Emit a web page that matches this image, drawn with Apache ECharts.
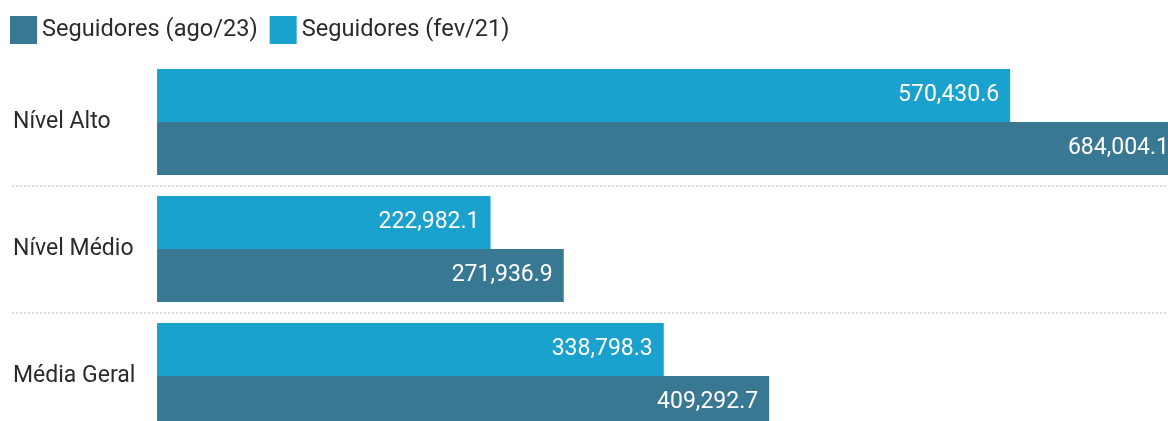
<!DOCTYPE html>
<html lang="pt">
<head>
    <meta charset="utf-8"/>
    <title>Seguidores</title>
    <script src="https://cdn.jsdelivr.net/npm/echarts@6/dist/echarts.min.js"></script>
    <style>
        html, body { margin: 0; padding: 0; background: #fff; }
        #chart { width: 1168px; height: 421px; }
    </style>
</head>
<body>
    <div id="chart"></div>
    <script>
        const categories = ['Nível Alto', 'Nível Médio', 'Média Geral'];
        const seguidoresAgo23 = [684004.1, 271936.9, 409292.7];
        const seguidoresFev21 = [570430.6, 222982.1, 338798.3];

        const chart = echarts.init(document.getElementById('chart'));
        const fmt = function (p) {
            return p.value.toLocaleString('en-US', { minimumFractionDigits: 1, maximumFractionDigits: 1 });
        };
        const barLabel = {
            show: true,
            position: 'insideRight',
            distance: 11,
            color: '#fff',
            fontSize: 23,
            fontFamily: 'Roboto',
            formatter: fmt
        };
        const option = {
            animation: false,
            textStyle: { fontFamily: 'Roboto' },
            legend: {
                left: 5,
                top: 11,
                itemWidth: 27,
                itemHeight: 28,
                itemGap: 12,
                icon: 'rect',
                data: ['Seguidores (ago/23)', 'Seguidores (fev/21)'],
                textStyle: { fontSize: 23.6, color: '#2b2b2b', fontFamily: 'Roboto' }
            },
            grid: {
                left: 12, right: -12, top: 58.5, bottom: -18.5,
                containLabel: false,
                outerBoundsMode: 'none'
            },
            xAxis: {
                type: 'value',
                min: -97000,
                max: 684004.1,
                show: false
            },
            yAxis: {
                type: 'category',
                data: categories,
                inverse: true,
                axisLine: { show: false },
                axisTick: { show: false },
                axisLabel: {
                    inside: true,
                    margin: 1,
                    fontSize: 23,
                    color: '#2b2b2b',
                    fontFamily: 'Roboto'
                },
                splitLine: {
                    show: true,
                    interval: function (idx) { return idx !== 0; },
                    lineStyle: { color: '#dcdcdc', width: 2, type: [2, 2] }
                }
            },
            series: [
                {
                    name: 'Seguidores (fev/21)',
                    type: 'bar',
                    data: seguidoresFev21,
                    barWidth: 53,
                    barGap: '0%',
                    itemStyle: { color: '#1aa1cd' },
                    label: barLabel
                },
                {
                    name: 'Seguidores (ago/23)',
                    type: 'bar',
                    data: seguidoresAgo23,
                    barWidth: 53,
                    barGap: '0%',
                    itemStyle: { color: '#397893' },
                    label: barLabel
                }
            ]
        };
        chart.setOption(option);
    </script>
</body>
</html>
